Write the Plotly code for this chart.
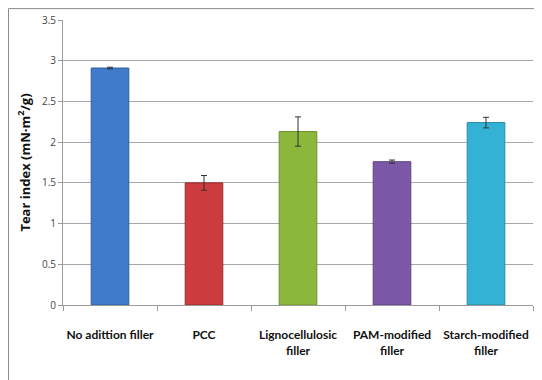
import plotly.graph_objects as go

categories = ["No adittion filler", "PCC", "Lignocellulosic<br>filler", "PAM-modified<br>filler", "Starch-modified<br>filler"]
values = [2.91, 1.50, 2.13, 1.76, 2.24]
errors = [0.01, 0.09, 0.18, 0.02, 0.065]
colors = ["#3f7acb", "#cc3b3d", "#8bb83c", "#7b59a8", "#33b2d6"]
line_colors = ["#2d5e9e", "#9c2a2c", "#6b9028", "#5d4184", "#2389a8"]
yticks = [0, 0.5, 1, 1.5, 2, 2.5, 3, 3.5]

fig = go.Figure()
fig.add_trace(go.Bar(
    x=categories, y=values,
    marker=dict(color=colors, line=dict(color=line_colors, width=1)),
    error_y=dict(type="data", array=errors, visible=True, color="#333333", thickness=1, width=3),
    width=0.4,
))

fig.update_layout(
    width=542, height=380,
    margin=dict(l=55, r=17, t=12, b=83, autoexpand=False),
    paper_bgcolor="white", plot_bgcolor="white",
    showlegend=False,
    font=dict(family="Lato, sans-serif", color="#222222"),
    xaxis=dict(
        showline=True, linecolor="#9a9a9a", linewidth=1,
        ticks="outside", tickson="boundaries", ticklen=5, tickcolor="#9a9a9a",
        tickfont=dict(size=12, family="Lato", color="#111111", weight="bold"),
        tickangle=0, automargin=False,
        ticklabelstandoff=19,
        showgrid=False,
    ),
    yaxis=dict(
        range=[0, 3.5], tickvals=yticks, ticktext=[f"{v:g}" for v in yticks],
        showline=True, linecolor="#9a9a9a", linewidth=1,
        ticks="outside", ticklen=4, tickcolor="#9a9a9a",
        showgrid=True, gridcolor="#a8a8a8", gridwidth=1,
        tickfont=dict(size=10, family="Open Sans", color="#444444"),
        zeroline=False, automargin=False,
        title=dict(text="Tear index (mN·m<sup>2</sup>/g)", font=dict(size=13, family="Open Sans", weight="bold", color="#111111"), standoff=8),
    ),
)

fig.add_shape(type="rect", xref="paper", yref="paper",
              x0=-0.116, x1=1.06, y0=-0.3, y1=1.04,
              line=dict(color="#8a8a8a", width=1), fillcolor="rgba(0,0,0,0)", layer="below")

fig.write_html("out.html")
